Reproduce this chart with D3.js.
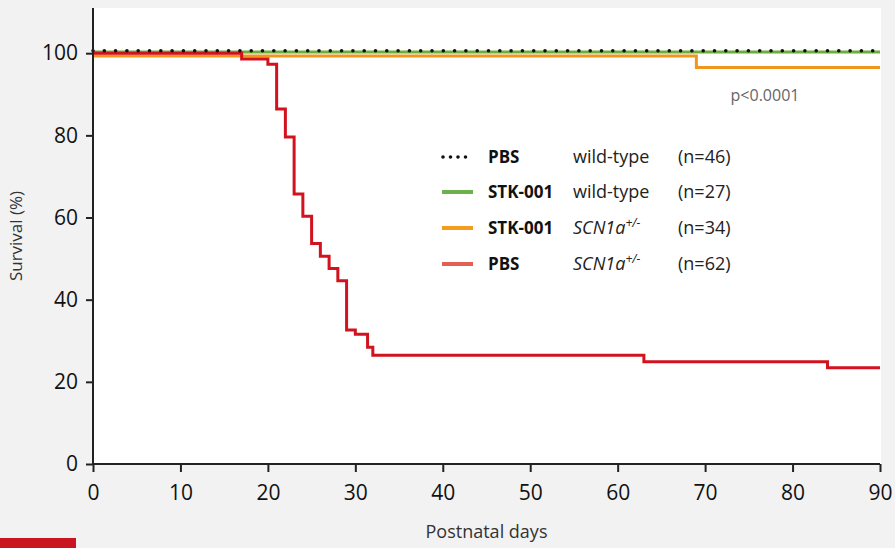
<!DOCTYPE html>
<html>
<head>
<meta charset="utf-8">
<script src="https://cdn.jsdelivr.net/npm/d3@7"></script>
<style>
  html, body { margin: 0; padding: 0; background: #f2f2f2; }
  svg { display: block; }
  text { font-family: "Open Sans", "DejaVu Sans", sans-serif; }
</style>
</head>
<body>
<svg id="chart" width="895" height="548"></svg>
<script>
// ---- data ----
const xTicks = [0, 10, 20, 30, 40, 50, 60, 70, 80, 90];
const yTicks = [0, 20, 40, 60, 80, 100];

const pbsWtDays = [0, 90];
const pbsWtSurv = [100.6, 100.6];

const stkWtDays = [0, 90];
const stkWtSurv = [100.3, 100.3];

const stkHetDays = [0, 69, 90];
const stkHetSurv = [99.3, 96.5, 96.5];

const pbsHetDays = [0, 17, 20, 21, 22, 23, 24, 25, 26, 27, 28, 29, 30, 31.4, 32, 63, 84, 90];
const pbsHetSurv = [100, 98.6, 97.3, 86.4, 79.6, 65.7, 60.3, 53.7, 50.6, 47.6, 44.6, 32.6, 31.6, 28.4, 26.5, 24.9, 23.4, 23.4];

const legendTreat = ["PBS", "STK-001", "STK-001", "PBS"];
const legendGeno = ["wild-type", "wild-type", "SCN1a", "SCN1a"];
const legendSup = ["", "", "+/-", "+/-"];
const legendN = ["(n=46)", "(n=27)", "(n=34)", "(n=62)"];

// ---- layout ----
const svg = d3.select("#chart");
const pl = 93, pr = 880, pt = 8, pb = 464;

const x = d3.scaleLinear().domain([0, 90]).range([pl, pr]);
const y = d3.scaleLinear().domain([0, 111]).range([pb, pt]);

svg.append("rect").attr("x", 0).attr("y", 0).attr("width", 895).attr("height", 548).attr("fill", "#f2f2f2");
svg.append("rect").attr("x", pl).attr("y", pt).attr("width", pr - pl + 1).attr("height", pb - pt).attr("fill", "#ffffff");

// ---- curves ----
const line = d3.line().x(d => x(d[0])).y(d => y(d[1])).curve(d3.curveStepAfter);
const zip = (a, b) => a.map((v, i) => [v, b[i]]);

svg.append("path").datum(zip(stkHetDays, stkHetSurv)).attr("d", line)
  .attr("fill", "none").attr("stroke", "#f0961c").attr("stroke-width", 3);
svg.append("path").datum(zip(stkWtDays, stkWtSurv)).attr("d", line)
  .attr("fill", "none").attr("stroke", "#6aae3e").attr("stroke-width", 3);
svg.append("path").datum(zip(pbsHetDays, pbsHetSurv)).attr("d", line)
  .attr("fill", "none").attr("stroke", "#d3121f").attr("stroke-width", 3);
svg.append("path").datum(zip(pbsWtDays, pbsWtSurv)).attr("d", line)
  .attr("fill", "none").attr("stroke", "#111").attr("stroke-width", 3.6)
  .attr("stroke-linecap", "round").attr("stroke-dasharray", "0 11.3");

// ---- axes ----
const xAxis = svg.append("g").attr("transform", `translate(0,${pb})`)
  .call(d3.axisBottom(x).tickValues(xTicks).tickSize(8).tickPadding(13).tickSizeOuter(0));
const yAxis = svg.append("g").attr("transform", `translate(${pl},0)`)
  .call(d3.axisLeft(y).tickValues(yTicks).tickSize(7).tickPadding(8).tickSizeOuter(0));
[xAxis, yAxis].forEach(g => {
  g.select(".domain").attr("stroke", "#222").attr("stroke-width", 2);
  g.selectAll(".tick line").attr("stroke", "#222").attr("stroke-width", 2);
  g.selectAll(".tick text").attr("fill", "#111").style("font-size", "21px")
    .style("font-family", '"Open Sans", sans-serif');
});
xAxis.select(".domain").attr("d", `M${pl},0H${pr}`);
yAxis.select(".domain").attr("d", `M0,${pb}V${pt}`);

// axis titles
svg.append("text").attr("x", (pl + pr) / 2).attr("y", 538).attr("text-anchor", "middle")
  .attr("fill", "#333").style("font-size", "18px").text("Postnatal days");
svg.append("text").attr("transform", `translate(22,${(pt + pb) / 2}) rotate(-90)`)
  .attr("text-anchor", "middle").attr("fill", "#333").style("font-size", "17px").text("Survival (%)");

// p-value
svg.append("text").attr("x", 765).attr("y", 101).attr("text-anchor", "middle")
  .attr("fill", "#666").style("font-size", "16px").text("p<0.0001");

// ---- legend ----
const legColors = ["#111", "#6ab04c", "#f39c1f", "#e35f52"];
const rowsY = [157, 192, 228, 264];
legendTreat.forEach((t, i) => {
  const ly = rowsY[i];
  if (i === 0) {
    svg.append("line").attr("x1", 443).attr("x2", 472).attr("y1", ly).attr("y2", ly)
      .attr("stroke", "#111").attr("stroke-width", 3.6).attr("stroke-linecap", "round")
      .attr("stroke-dasharray", "0 7.5");
  } else {
    svg.append("line").attr("x1", 442).attr("x2", 473).attr("y1", ly).attr("y2", ly)
      .attr("stroke", legColors[i]).attr("stroke-width", 4);
  }
  svg.append("text").attr("x", 488).attr("y", ly + 6).attr("fill", "#111")
    .style("font-size", "17px").style("font-weight", "bold").text(t);
  const g = svg.append("text").attr("x", 573).attr("y", ly + 6).attr("fill", "#222")
    .style("font-size", "18px");
  if (legendSup[i]) {
    g.style("font-style", "italic").text(legendGeno[i]);
    g.append("tspan").attr("dy", -7).style("font-size", "12px").text(legendSup[i]);
  } else {
    g.text(legendGeno[i]);
  }
  svg.append("text").attr("x", 678).attr("y", ly + 6).attr("fill", "#222")
    .style("font-size", "18px").text(legendN[i]);
});

// red tab at bottom-left
svg.append("rect").attr("x", 0).attr("y", 538).attr("width", 76).attr("height", 10).attr("fill", "#c8151f");
</script>
</body>
</html>
